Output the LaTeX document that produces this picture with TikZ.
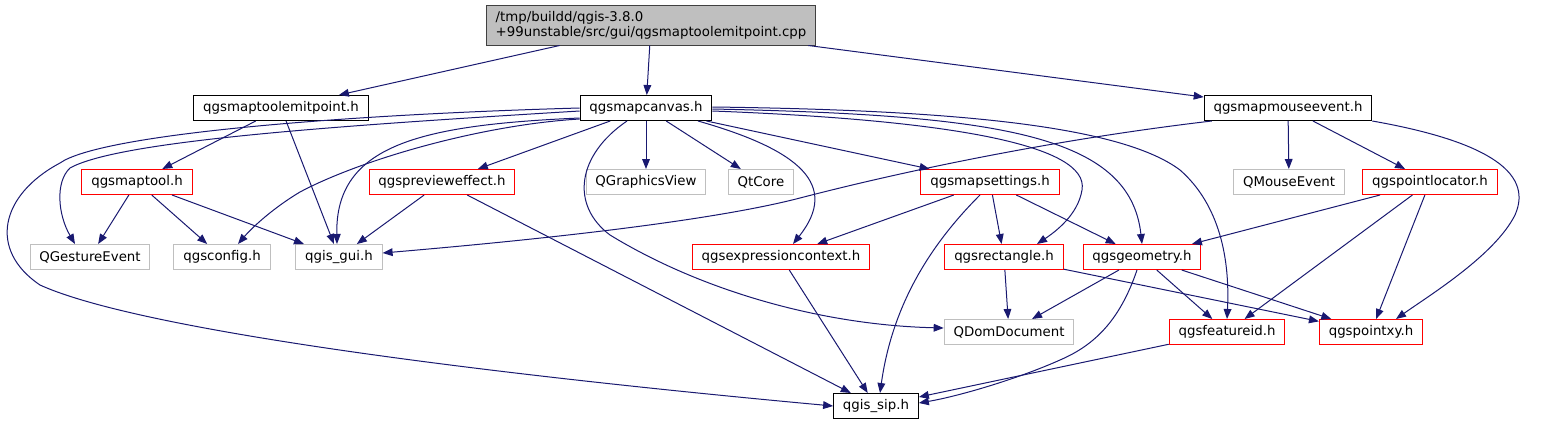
\documentclass[tikz,border=0pt]{standalone}
\usepackage{fontspec}
\setmainfont{DejaVu Sans}
\usetikzlibrary{arrows.meta,calc}
\definecolor{edgeblue}{HTML}{191970}
\definecolor{boxgray}{HTML}{BFBFBF}
\definecolor{rootline}{HTML}{404040}

\begin{document}
\begin{tikzpicture}[x=.75pt,y=-.75pt,>={Triangle[length=7.5pt,width=5.8pt]},
 file/.style={draw,line width=.75pt,font=\fontsize{10}{11.25}\selectfont,inner xsep=7pt,inner ysep=0pt,minimum height=18.75pt},
 hidden/.style={file,draw=red},
 sys/.style={file,draw=boxgray},
 inc/.style={->,draw=edgeblue,line width=.75pt}]
 \useasboundingbox (0,0) rectangle (1543,425);
 \node[file,fill=boxgray,draw=rootline,align=left,minimum height=30pt] (root) at (651,25) {/tmp/buildd/qgis-3.8.0\\+99unstable/src/gui/qgsmaptoolemitpoint.cpp};
 \node[file] (emit) at (281,108) {qgsmaptoolemitpoint.h};
 \node[file] (canvas) at (646,108) {qgsmapcanvas.h};
 \node[file] (mouse) at (1288,108) {qgsmapmouseevent.h};
 \node[hidden] (tool) at (137,182) {qgsmaptool.h};
 \node[hidden] (preview) at (442,182) {qgsprevieweffect.h};
 \node[sys] (gview) at (646,182) {QGraphicsView};
 \node[sys] (qtcore) at (761,182) {QtCore};
 \node[hidden] (settings) at (990,182) {qgsmapsettings.h};
 \node[sys] (mevent) at (1289,182) {QMouseEvent};
 \node[hidden] (locator) at (1430,182) {qgspointlocator.h};
 \node[sys] (gesture) at (90,257) {QGestureEvent};
 \node[sys] (config) at (222,257) {qgsconfig.h};
 \node[sys] (gui) at (339,257) {qgis\_gui.h};
 \node[hidden] (expr) at (781,257) {qgsexpressioncontext.h};
 \node[hidden] (rect) at (1004,257) {qgsrectangle.h};
 \node[hidden] (geom) at (1142,257) {qgsgeometry.h};
 \node[sys] (dom) at (1009,332) {QDomDocument};
 \node[hidden] (featid) at (1227,332) {qgsfeatureid.h};
 \node[hidden] (pointxy) at (1371,332) {qgspointxy.h};
 \node[file] (sip) at (876,406) {qgis\_sip.h};

 \draw[inc] (root) -- (emit);
 \draw[inc] (root) -- (canvas);
 \draw[inc] (root) -- (mouse);
 \draw[inc] (emit) -- (tool);
 \draw[inc] (emit) -- (gui);
 \draw[inc] (canvas) -- (preview);
 \draw[inc] (canvas) -- (gview);
 \draw[inc] (canvas) -- (qtcore);
 \draw[inc] (canvas) -- (settings);
 \draw[inc] ($(canvas.west)+(0,3)$) .. controls (350,125) and (120,140) .. (70,168) .. controls (55,182) and (58,215) .. ($(gesture.north)+(-15,0)$);
 \draw[inc] (canvas.west) .. controls (330,115) and (100,135) .. (60,163) .. controls (0,195) and (-12,250) .. (40,285) .. controls (150,335) and (550,380) .. (sip.west);
 \draw[inc] ($(canvas.south west)+(0,-2)$) .. controls (480,125) and (360,160) .. (300,192) .. controls (270,210) and (250,230) .. ($(config.north)+(16,0)$);
 \draw[inc] ($(canvas.south west)+(0,-3)$) .. controls (420,125) and (335,145) .. ($(gui.north)+(-2,0)$);
 \draw[inc] ($(canvas.south)+(-19,0)$) .. controls (577,155) and (570,205) .. (610,235) .. controls (700,290) and (820,325) .. ($(dom.west)+(0,-4)$);
 \draw[inc] ($(canvas.south)+(52,0)$) .. controls (800,150) and (840,185) .. ($(expr.north)+(12,0)$);
 \draw[inc] ($(canvas.east)+(0,3)$) .. controls (950,120) and (1090,145) .. (1082,190) .. controls (1078,215) and (1055,232) .. ($(rect.north)+(33,0)$);
 \draw[inc] ($(canvas.east)+(0,1)$) .. controls (1000,115) and (1130,135) .. (geom.north);
 \draw[inc] ($(canvas.east)+(0,-1)$) .. controls (950,110) and (1120,125) .. (1180,170) .. controls (1220,205) and (1230,260) .. (featid.north);
 \draw[inc] (tool) -- (gesture);
 \draw[inc] (tool) -- (config);
 \draw[inc] (tool) -- (gui);
 \draw[inc] (preview) -- (gui);
 \draw[inc] (preview) -- (sip);
 \draw[inc] ($(mouse.south west)+(8,0)$) .. controls (1050,140) and (900,172) .. (800,198) .. controls (700,224) and (500,243) .. ($(gui.east)+(0,-4)$);
 \draw[inc] (mouse) -- (mevent);
 \draw[inc] (mouse) -- (locator);
 \draw[inc] (mouse.south east) .. controls (1480,140) and (1535,170) .. (1515,215) .. controls (1495,255) and (1430,295) .. ($(pointxy.north)+(25,0)$);
 \draw[inc] (settings) -- (expr);
 \draw[inc] ($(settings.south)+(-10,0)$) .. controls (935,240) and (893,300) .. ($(sip.north)+(4,0)$);
 \draw[inc] (settings) -- (rect);
 \draw[inc] (settings) -- (geom);
 \draw[inc] (locator) -- (geom);
 \draw[inc] (locator) -- (featid);
 \draw[inc] (locator) -- (pointxy);
 \draw[inc] (expr) -- (sip);
 \draw[inc] (rect) -- (dom);
 \draw[inc] (rect) -- (pointxy);
 \draw[inc] (geom) -- (dom);
 \draw[inc] ($(geom.south)+(-5,0)$) .. controls (1120,320) and (1095,345) .. (1060,360) .. controls (1020,378) and (960,396) .. ($(sip.east)+(0,-3)$);
 \draw[inc] (geom) -- (featid);
 \draw[inc] (geom) -- (pointxy);
 \draw[inc] (featid) -- (sip);
\end{tikzpicture}
\end{document}
